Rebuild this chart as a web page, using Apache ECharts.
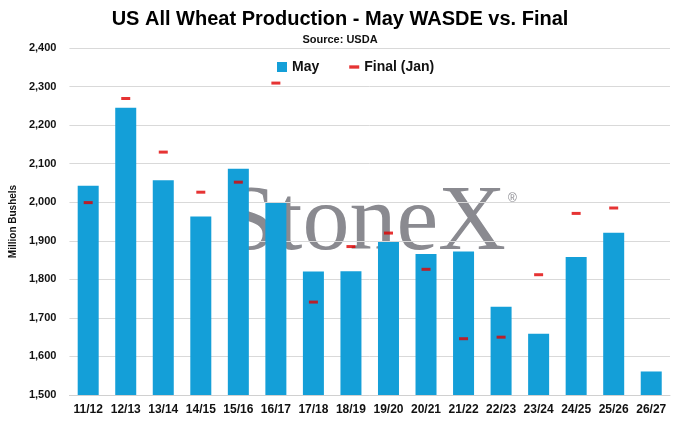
<!DOCTYPE html>
<html>
<head>
	<meta charset="UTF-8">
	<script src="https://cdn.jsdelivr.net/npm/echarts@6/dist/echarts.min.js"></script>
</head>
<body style="margin:0;background:#fff;">
<div id="main" style="width:680px;height:422px;"></div>
<script type="text/javascript">
        // 年度
        var years = ['11/12', '12/13', '13/14', '14/15', '15/16', '16/17', '17/18', '18/19',
                     '19/20', '20/21', '21/22', '22/23', '23/24', '24/25', '25/26', '26/27'];
        // 5月 WASDE 预估
        var mayValues = [2043, 2245, 2057, 1963, 2087, 1998, 1820, 1821,
                         1897, 1866, 1872, 1729, 1659, 1858, 1921, 1561];
        // 最终 (1月)
        var finalValues = [1999, 2269, 2130, 2026, 2052, 2309, 1741, 1885,
                           1920, 1826, 1646, 1650, 1812, 1971, 1985, '-'];
        var yTicks = [1500, 2400, 100];

        var font = '"Liberation Sans Narrow", "Liberation Sans", sans-serif';
        var myChart = echarts.init(document.getElementById('main'));

        var option = {
            animation: false,
            textStyle: { fontFamily: font },
            title: {
                text: 'US All Wheat Production - May WASDE vs. Final',
                subtext: 'Source: USDA',
                left: 'center',
                top: 4,
                itemGap: 5,
                textStyle: { fontSize: 20, fontWeight: 'bold', color: '#000', fontFamily: font },
                subtextStyle: { fontSize: 11, fontWeight: 'bold', color: '#111', fontFamily: font }
            },
            legend: {
                top: 55,
                left: 272,
                itemGap: 30,
                itemWidth: 10,
                itemHeight: 10,
                textStyle: { fontSize: 14, fontWeight: 'bold', color: '#111', fontFamily: font },
                data: [
                    { name: 'May', icon: 'rect' },
                    { name: 'Final (Jan)', icon: 'path://M0,0h9v3h-9z' }
                ]
            },
            // 水印放在最底层
            graphic: {
                zlevel: 0,
                elements: [{
                    type: 'text',
                    left: 224,
                    top: 177,
                    silent: true,
                    style: {
                        text: 'StoneX',
                        font: '94px "Liberation Serif", serif',
                        fill: '#8a8a90'
                    }
                }, {
                    type: 'text',
                    left: 508,
                    top: 193,
                    silent: true,
                    style: {
                        text: '®',
                        font: '12px "Liberation Sans", sans-serif',
                        fill: '#8a8a90'
                    }
                }]
            },
            grid: { left: 67, right: 10, top: 48, bottom: 27 },
            xAxis: {
                type: 'category',
                data: years,
                zlevel: 1,
                axisLine: { lineStyle: { color: '#d0d0d0' } },
                axisTick: { show: false },
                axisLabel: { fontSize: 12, fontWeight: 'bold', color: '#111', margin: 9, interval: 0 }
            },
            yAxis: {
                type: 'value',
                min: yTicks[0],
                max: yTicks[1],
                interval: yTicks[2],
                zlevel: 1,
                name: 'Million Bushels',
                nameLocation: 'middle',
                nameGap: 50,
                nameTextStyle: { fontSize: 10, fontWeight: 'bold', color: '#111' },
                axisLine: { show: false },
                axisTick: { show: false },
                splitLine: { lineStyle: { color: '#d9d9d9' } },
                axisLabel: {
                    fontSize: 11, fontWeight: 'bold', color: '#111', margin: 13,
                    formatter: function (v) { return v.toLocaleString('en-US'); }
                }
            },
            series: [{
                name: 'May',
                type: 'bar',
                data: mayValues,
                barWidth: 21,
                zlevel: 1,
                itemStyle: { color: '#149fd8' }
            }, {
                name: 'Final (Jan)',
                type: 'scatter',
                data: finalValues,
                symbol: 'rect',
                symbolSize: [9, 3],
                zlevel: 1,
                z: 5,
                itemStyle: { color: '#e00000' }
            }]
        };

        myChart.setOption(option);
</script>
</body>
</html>
